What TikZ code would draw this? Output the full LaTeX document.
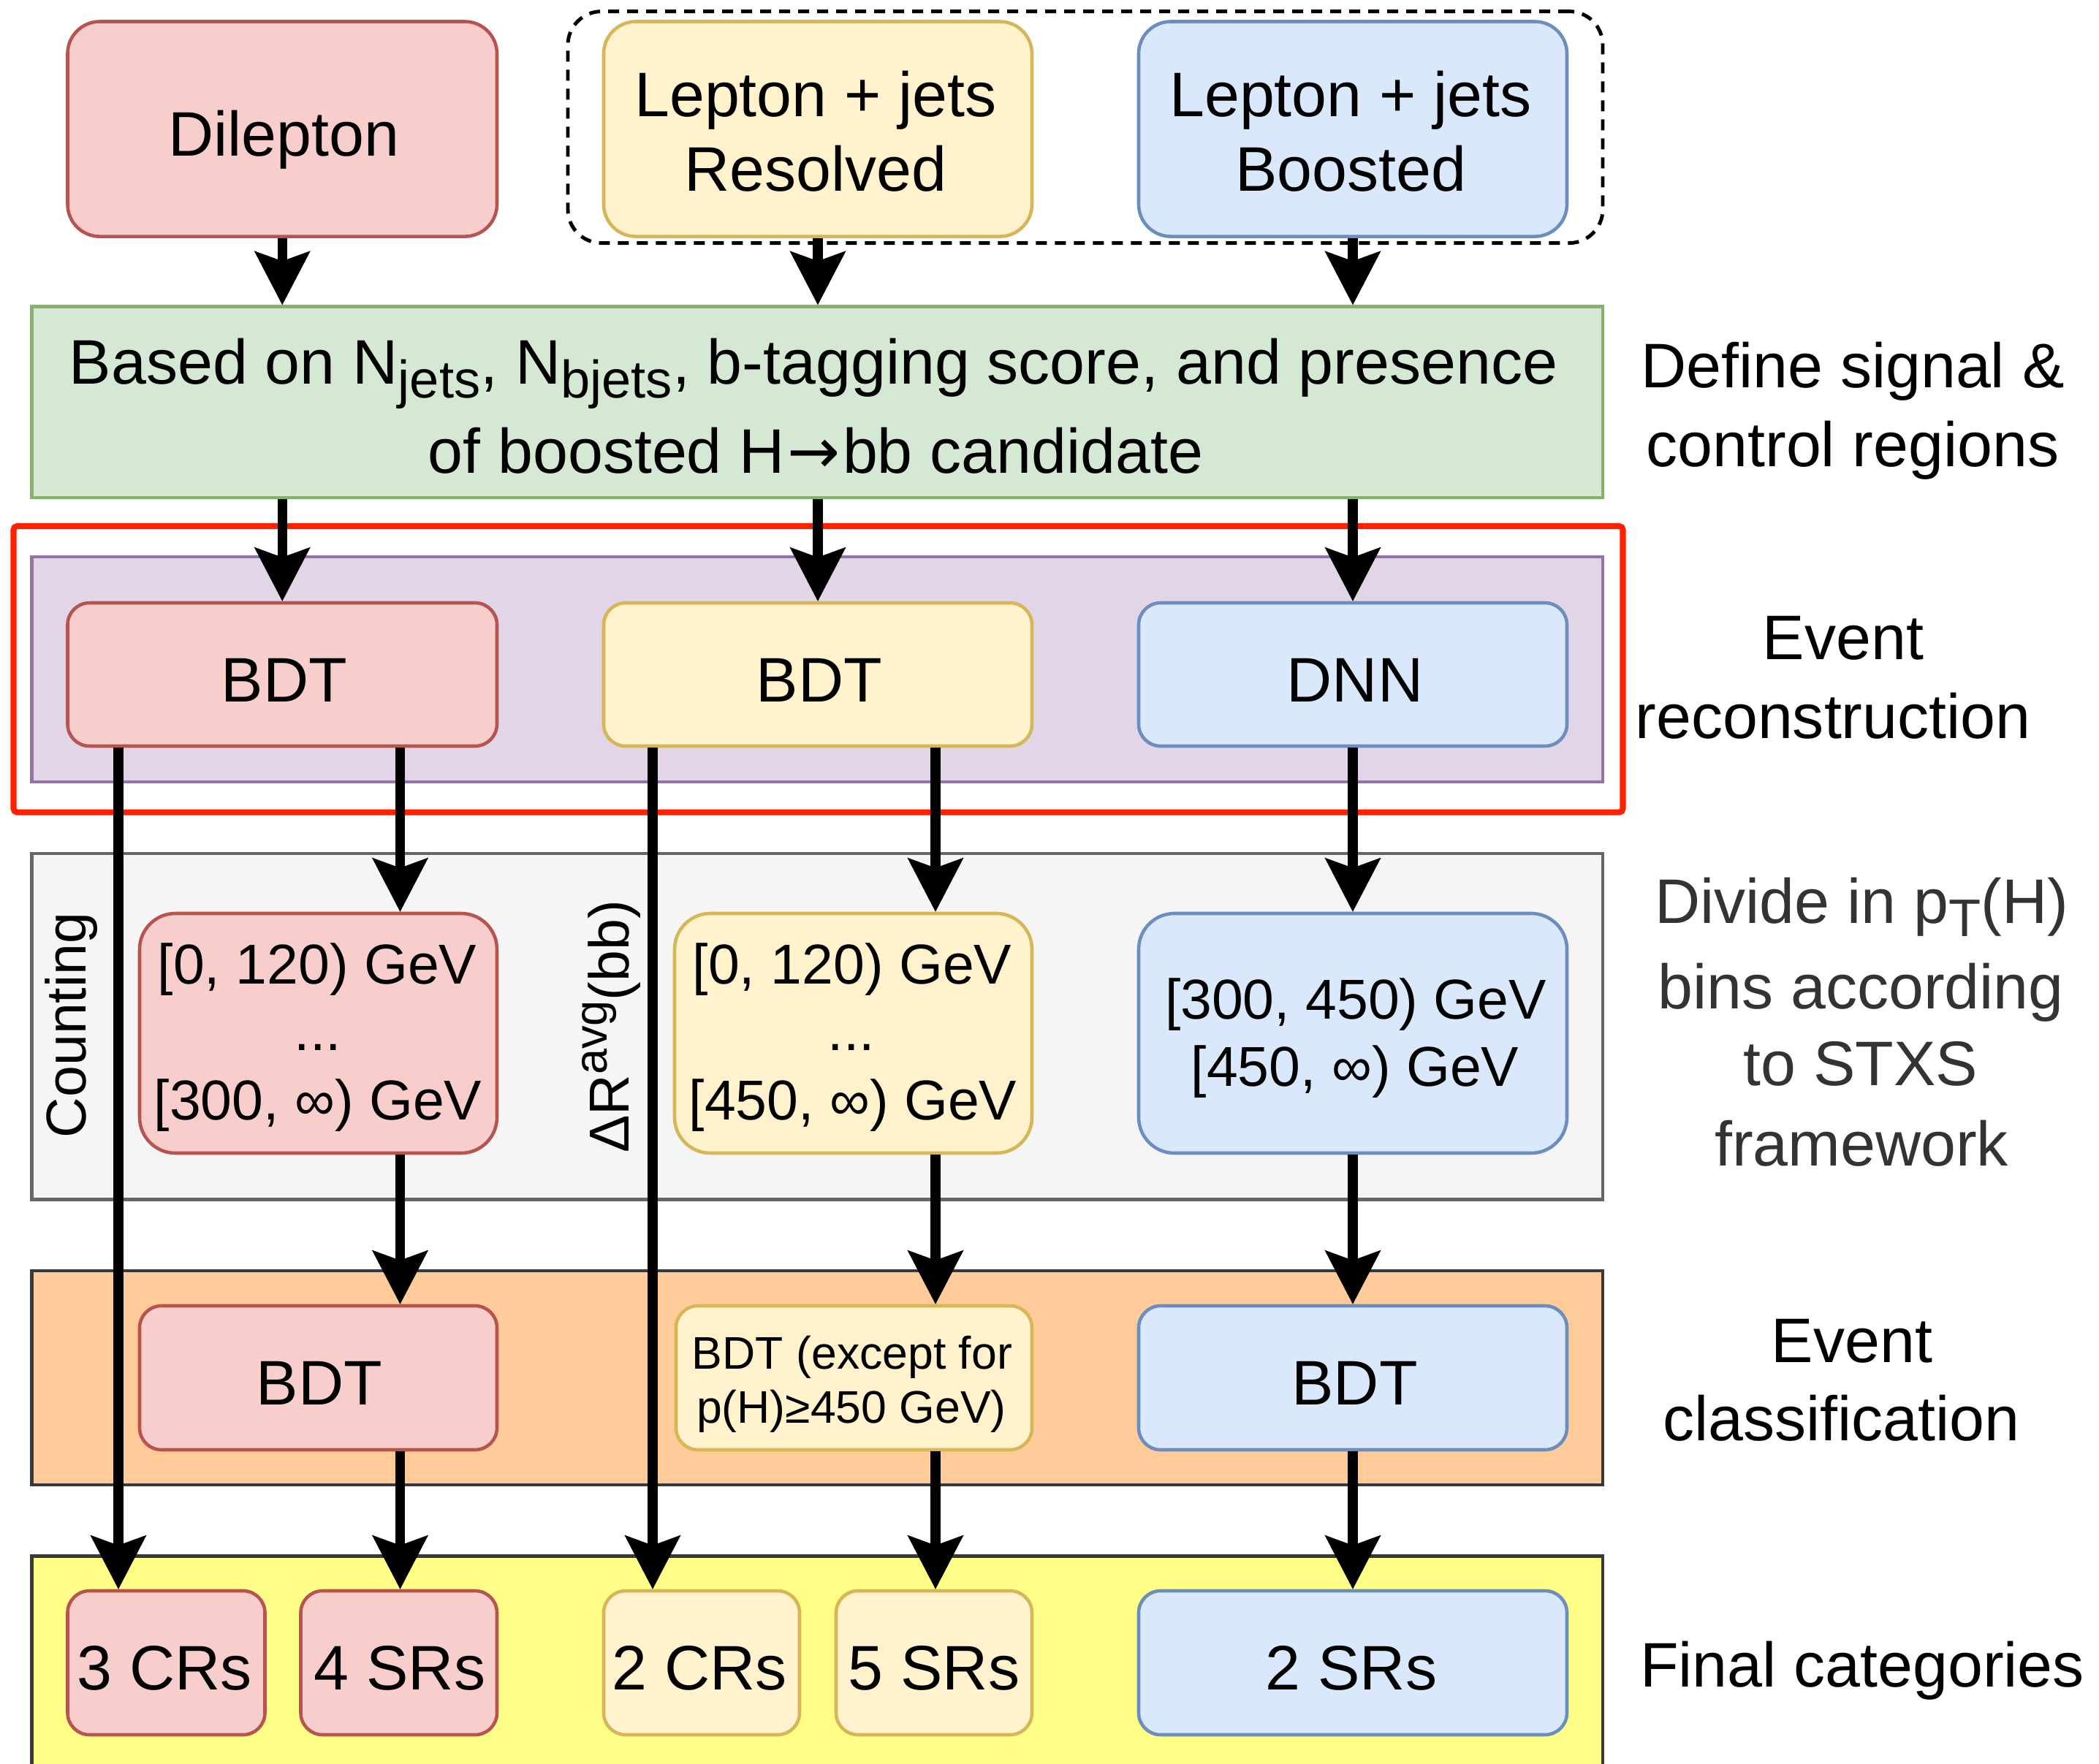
\documentclass[tikz,border=0pt]{standalone}
\usepackage{fontspec}
\setmainfont{Liberation Sans}
\newfontfamily\arrowfont{DejaVu Sans}
\usepackage{graphicx}
\usetikzlibrary{arrows.meta,fit}

% palette
\definecolor{redfill}{HTML}{F8CECC}
\definecolor{redline}{HTML}{B85450}
\definecolor{yelfill}{HTML}{FFF2CC}
\definecolor{yelline}{HTML}{D6B656}
\definecolor{bluefill}{HTML}{DAE8FC}
\definecolor{blueline}{HTML}{6C8EBF}
\definecolor{grnfill}{HTML}{D5E8D4}
\definecolor{grnline}{HTML}{82B366}
\definecolor{purfill}{HTML}{E1D5E7}
\definecolor{purline}{HTML}{9673A6}
\definecolor{gryfill}{HTML}{F5F5F5}
\definecolor{gryline}{HTML}{666666}
\definecolor{grytext}{HTML}{333333}
\definecolor{orgfill}{HTML}{FFCC99}
\definecolor{bandline}{HTML}{36393D}
\definecolor{ylwband}{HTML}{FFFF88}
\definecolor{hilite}{HTML}{FF2200}

% type sizes
\newcommand{\fmain}{\fontsize{24.5pt}{29pt}\selectfont}
\newcommand{\fbin}{\fontsize{21.9pt}{26pt}\selectfont}
\newcommand{\fsmall}{\fontsize{17.8pt}{21pt}\selectfont}
\newcommand{\lowidx}[1]{\raisebox{-0.22em}{\scalebox{0.84}{#1}}}
\newcommand{\highidx}[1]{\raisebox{0.38em}{\scalebox{0.82}{#1}}}
\newcommand{\decayarrow}{\hspace{0.04em}{\arrowfont →}\hspace{0.04em}}

\begin{document}
\begin{tikzpicture}[x=1cm, y=-1cm,
  band/.style={rectangle, draw, line width=1.3pt, inner sep=0pt},
  cbox/.style={rectangle, draw, line width=1.3pt, inner sep=0pt, rounded corners=#1},
  cbox/.default=0.3cm,
  redb/.style={draw=redline, fill=redfill},
  yelb/.style={draw=yelline, fill=yelfill},
  blub/.style={draw=blueline, fill=bluefill},
  txt/.style={anchor=base, inner sep=0pt, font=\fmain},
  bintxt/.style={anchor=base, inner sep=0pt, font=\fbin},
  smalltxt/.style={anchor=base, inner sep=0pt, font=\fsmall},
  flow/.style={line width=0.135cm,
    -{Stealth[length=0.74cm, width=0.77cm, inset=0.14cm, line width=0.4pt]}}
]
\useasboundingbox (0,0) rectangle (28.72,24.14);
\fill[white] (0,0) rectangle (28.72,24.14);
\clip (0,0) rectangle (28.72,24.14);

% ---- input channels ----
\node[cbox=0.46cm, draw=black, line width=1.4pt, dash pattern=on 0.15cm off 0.11cm,
      fit={(7.77,0.156) (21.93,3.326)}] (ljgroup) {};
\node[cbox=0.44cm, redb, fit={(0.925,0.295) (6.80,3.236)}] (dil) {};
\node[cbox=0.44cm, yelb, fit={(8.26,0.295) (14.12,3.236)}] (res) {};
\node[cbox=0.44cm, blub, fit={(15.58,0.295) (21.44,3.236)}] (boo) {};

\node[txt] (tdil) at (3.885,2.134) {Dilepton};
\node[txt] (tres1) at (11.16,1.598) {Lepton + jets};
\node[txt] (tres2) at (11.16,2.611) {Resolved};
\node[txt] (tboo1) at (18.48,1.598) {Lepton + jets};
\node[txt] (tboo2) at (18.48,2.611) {Boosted};

% ---- signal and control region definition ----
\node[band, draw=grnline, fill=grnfill, fit={(0.435,4.196) (21.93,6.808)}] (grn) {};
\node[txt] (tg1) at (11.13,5.26) {Based on N\lowidx{jets}, N\lowidx{bjets}, b-tagging score, and presence};
\node[txt] (tg2) at (11.16,6.473) {of boosted H\decayarrow bb candidate};

\node[txt] (sdef1) at (25.35,5.31) {Define signal \&};
\node[txt] (sdef2) at (25.35,6.384) {control regions};

% ---- event reconstruction ----
\node[band, draw=purline, fill=purfill, fit={(0.435,7.62) (21.93,10.70)}] (pur) {};
\node[rectangle, draw=hilite, line width=2.3pt, rounded corners=0.05cm, inner sep=0pt,
      fit={(0.185,7.20) (22.205,11.116)}] (hl) {};
\node[cbox, redb, fit={(0.925,8.25) (6.80,10.21)}] (bdtA) {};
\node[cbox, yelb, fit={(8.26,8.25) (14.12,10.21)}] (bdtB) {};
\node[cbox, blub, fit={(15.58,8.25) (21.44,10.21)}] (dnnC) {};
\node[txt] (tbdtA) at (3.89,9.60) {BDT};
\node[txt] (tbdtB) at (11.21,9.60) {BDT};
\node[txt] (tdnnC) at (18.54,9.60) {DNN};

\node[txt] (srec1) at (25.22,9.02) {Event};
\node[txt] (srec2) at (25.08,10.10) {reconstruction};

% ---- pT(H) binning ----
\node[band, draw=gryline, fill=gryfill, fit={(0.435,11.68) (21.93,16.415)}] (gry) {};
\node[cbox=0.49cm, redb, fit={(1.91,12.50) (6.80,15.78)}] (binA) {};
\node[cbox=0.49cm, yelb, fit={(9.23,12.50) (14.12,15.78)}] (binB) {};
\node[cbox=0.49cm, blub, fit={(15.58,12.50) (21.44,15.78)}] (binC) {};

\node[bintxt] (tbA1) at (4.34,13.46) {[0, 120) GeV};
\node[bintxt] (tbA2) at (4.35,14.375) {...};
\node[bintxt] (tbA3) at (4.35,15.32) {[300, ∞) GeV};
\node[bintxt] (tbB1) at (11.66,13.46) {[0, 120) GeV};
\node[bintxt] (tbB2) at (11.65,14.375) {...};
\node[bintxt] (tbB3) at (11.67,15.32) {[450, ∞) GeV};
\node[bintxt] (tbC1) at (18.55,13.945) {[300, 450) GeV};
\node[bintxt] (tbC2) at (18.54,14.86) {[450, ∞) GeV};

\node[bintxt, rotate=90] (tcount) at (1.175,14.03) {Counting};
\node[bintxt, rotate=90] (tdr) at (8.60,14.05) {ΔR\highidx{avg}(bb)};

\node[txt, text=grytext] (sbin1) at (25.47,12.63) {Divide in p\lowidx{T}(H)};
\node[txt, text=grytext] (sbin2) at (25.46,13.80) {bins according};
\node[txt, text=grytext] (sbin3) at (25.46,14.85) {to STXS};
\node[txt, text=grytext] (sbin4) at (25.47,15.95) {framework};

% ---- event classification ----
\node[band, draw=bandline, fill=orgfill, fit={(0.435,17.39) (21.93,20.32)}] (org) {};
\node[cbox, redb, fit={(1.91,17.87) (6.80,19.84)}] (clsA) {};
\node[cbox, yelb, fit={(9.25,17.87) (14.12,19.84)}] (clsB) {};
\node[cbox, blub, fit={(15.58,17.87) (21.44,19.84)}] (clsC) {};
\node[txt] (tclsA) at (4.37,19.22) {BDT};
\node[smalltxt] (tclsB1) at (11.66,18.73) {BDT (except for};
\node[smalltxt] (tclsB2) at (11.65,19.47) {p(H)≥450 GeV)};
\node[txt] (tclsC) at (18.535,19.22) {BDT};

\node[txt] (scls1) at (25.34,18.647) {Event};
\node[txt] (scls2) at (25.195,19.71) {classification};

% ---- final categories ----
\node[band, draw=bandline, fill=ylwband, fit={(0.435,21.295) (21.93,24.60)}] (ylw) {};
\node[cbox, redb, fit={(0.925,21.77) (3.625,23.74)}] (crA) {};
\node[cbox, redb, fit={(4.115,21.77) (6.80,23.74)}] (srA) {};
\node[cbox, yelb, fit={(8.26,21.77) (10.94,23.74)}] (crB) {};
\node[cbox, yelb, fit={(11.44,21.77) (14.12,23.74)}] (srB) {};
\node[cbox, blub, fit={(15.58,21.77) (21.44,23.74)}] (srC) {};
\node[txt] (tcrA) at (2.25,23.12) {3 CRs};
\node[txt] (tsrA) at (5.47,23.12) {4 SRs};
\node[txt] (tcrB) at (9.57,23.12) {2 CRs};
\node[txt] (tsrB) at (12.78,23.12) {5 SRs};
\node[txt] (tsrC) at (18.49,23.12) {2 SRs};

\node[txt] (sfin) at (25.48,23.08) {Final categories};

% ---- connectors ----
\coordinate (xa) at (1.62,0);
\coordinate (xb) at (5.475,0);
\coordinate (xc) at (8.93,0);
\coordinate (xd) at (12.80,0);

\draw[flow] (dil.south) -- (dil.south |- grn.north);
\draw[flow] (res.south) -- (res.south |- grn.north);
\draw[flow] (boo.south) -- (boo.south |- grn.north);

\draw[flow] (grn.south -| bdtA.north) -- (bdtA.north);
\draw[flow] (grn.south -| bdtB.north) -- (bdtB.north);
\draw[flow] (grn.south -| dnnC.north) -- (dnnC.north);

\draw[flow] (bdtA.south -| xa) -- (crA.north -| xa);
\draw[flow] (bdtA.south -| xb) -- (binA.north -| xb);
\draw[flow] (binA.south -| xb) -- (clsA.north -| xb);
\draw[flow] (clsA.south -| xb) -- (srA.north -| xb);

\draw[flow] (bdtB.south -| xc) -- (crB.north -| xc);
\draw[flow] (bdtB.south -| xd) -- (binB.north -| xd);
\draw[flow] (binB.south -| xd) -- (clsB.north -| xd);
\draw[flow] (clsB.south -| xd) -- (srB.north -| xd);

\draw[flow] (dnnC.south) -- (binC.north);
\draw[flow] (binC.south) -- (clsC.north);
\draw[flow] (clsC.south) -- (srC.north);
\end{tikzpicture}
\end{document}
